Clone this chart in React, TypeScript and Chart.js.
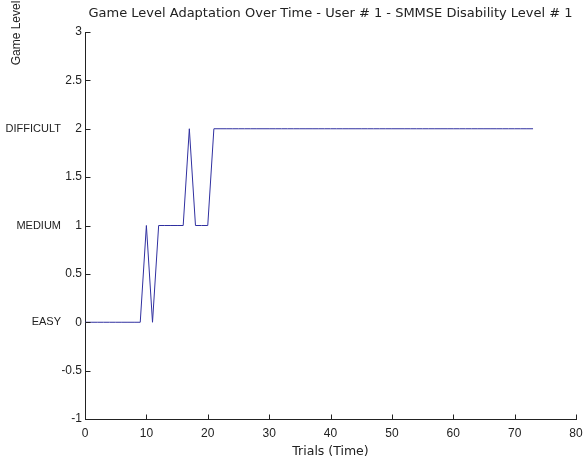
import React, { useEffect, useRef } from 'react';
import { Chart, registerables } from 'chart.js';

Chart.register(...registerables);

const chartTitle = 'Game Level Adaptation Over Time - User # 1 - SMMSE Disability Level # 1';
const xAxisTitle = 'Trials (Time)';
const yAxisTitle = 'Game Level';

const trials = [
  0, 1, 2, 3, 4, 5, 6, 7, 8, 9,
  10, 11, 12, 13, 14, 15, 16, 17, 18, 19,
  20, 21, 22, 23, 24, 25, 26, 27, 28, 29,
  30, 31, 32, 33, 34, 35, 36, 37, 38, 39,
  40, 41, 42, 43, 44, 45, 46, 47, 48, 49,
  50, 51, 52, 53, 54, 55, 56, 57, 58, 59,
  60, 61, 62, 63, 64, 65, 66, 67, 68, 69,
  70, 71, 72, 73,
];

const levels = [
  0, 0, 0, 0, 0, 0, 0, 0, 0, 0,
  1, 0, 1, 1, 1, 1, 1, 2, 1, 1,
  1, 2, 2, 2, 2, 2, 2, 2, 2, 2,
  2, 2, 2, 2, 2, 2, 2, 2, 2, 2,
  2, 2, 2, 2, 2, 2, 2, 2, 2, 2,
  2, 2, 2, 2, 2, 2, 2, 2, 2, 2,
  2, 2, 2, 2, 2, 2, 2, 2, 2, 2,
  2, 2, 2, 2,
];

const levelValues = [0, 1, 2];
const levelNames = ['EASY', 'MEDIUM', 'DIFFICULT'];

const FONT = '"Liberation Sans", Arial, Helvetica, sans-serif';
const WIDE_FONT = '"DejaVu Sans", Verdana, sans-serif';
const INK = '#222222';
const TICK_LEN = 5;

const decorPlugin = {
  id: 'decorPlugin',
  afterDraw(chart: any) {
    const ctx = chart.ctx;
    const area = chart.chartArea;
    const xs = chart.scales.x;
    const ys = chart.scales.y;
    ctx.save();
    ctx.strokeStyle = INK;
    ctx.lineWidth = 1;
    ctx.beginPath();
    xs.ticks.forEach((t: any) => {
      const px = Math.round(xs.getPixelForValue(t.value)) + 0.5;
      const by = Math.round(area.bottom) + 0.5;
      ctx.moveTo(px, by);
      ctx.lineTo(px, by - TICK_LEN);
    });
    ys.ticks.forEach((t: any) => {
      const py = Math.round(ys.getPixelForValue(t.value)) + 0.5;
      const lx = Math.round(area.left) + 0.5;
      ctx.moveTo(lx, py);
      ctx.lineTo(lx + TICK_LEN, py);
    });
    ctx.stroke();

    ctx.translate(17, 33);
    ctx.rotate(-Math.PI / 2);
    ctx.font = `12px ${FONT}`;
    ctx.fillStyle = INK;
    ctx.textAlign = 'center';
    ctx.textBaseline = 'middle';
    ctx.fillText(yAxisTitle, 0, 0);
    ctx.restore();
  },
};

export default function App() {
  const ref = useRef<HTMLCanvasElement | null>(null);

  useEffect(() => {
    if (!ref.current) return;
    const chart = new Chart(ref.current, {
      type: 'line',
      data: {
        datasets: [
          {
            data: trials.map((t, i) => ({ x: t, y: levels[i] })),
            borderColor: '#3030a0',
            borderWidth: 1,
            pointRadius: 0,
            tension: 0,
            fill: false,
          },
        ],
      },
      plugins: [decorPlugin],
      options: {
        animation: false,
        responsive: true,
        maintainAspectRatio: false,
        layout: { padding: { left: 0, right: 9, top: 0, bottom: 0 } },
        plugins: {
          legend: { display: false },
          tooltip: { enabled: false },
          title: {
            display: true,
            text: chartTitle,
            fullSize: false,
            color: INK,
            font: { family: WIDE_FONT, size: 13, weight: 'normal' },
            padding: { top: 6, bottom: 10.4 },
          },
        },
        scales: {
          x: {
            type: 'linear',
            position: 'bottom',
            min: 0,
            max: 80,
            afterFit: (s: any) => {
              s.height = 46;
              s.paddingLeft = 0;
              s.paddingRight = 0;
            },
            ticks: {
              stepSize: 10,
              autoSkip: false,
              maxRotation: 0,
              color: INK,
              padding: 7,
              font: { family: FONT, size: 12 },
              callback: (v: any) => Number(v).toString(),
            },
            grid: { display: false, drawOnChartArea: false, drawTicks: false },
            border: { display: true, color: INK, width: 1 },
            title: {
              display: true,
              text: xAxisTitle,
              color: INK,
              font: { family: WIDE_FONT, size: 12.5 },
              padding: { top: 0, bottom: 6 },
            },
          },
          y: {
            type: 'linear',
            position: 'left',
            weight: 0,
            min: -1,
            max: 3,
            afterFit: (s: any) => {
              s.width = 23;
              s.paddingTop = 0;
              s.paddingBottom = 0;
            },
            ticks: {
              stepSize: 0.5,
              autoSkip: false,
              color: INK,
              padding: 3,
              font: { family: FONT, size: 12 },
              callback: (v: any) => Number(v).toString(),
            },
            grid: { display: false, drawOnChartArea: false, drawTicks: false },
            border: { display: true, color: INK, width: 1 },
          },
          yLevel: {
            type: 'linear',
            position: 'left',
            weight: 1,
            min: -1,
            max: 3,
            afterFit: (s: any) => {
              s.width = 62;
              s.paddingTop = 0;
              s.paddingBottom = 0;
            },
            afterBuildTicks: (s: any) => {
              s.ticks = levelValues.map((v) => ({ value: v }));
            },
            ticks: {
              autoSkip: false,
              color: INK,
              padding: 1,
              font: { family: FONT, size: 11 },
              callback: (v: any) => {
                const i = levelValues.indexOf(Number(v));
                return i >= 0 ? levelNames[i] : '';
              },
            },
            grid: { display: false, drawTicks: false },
            border: { display: false },
          },
        },
      },
    });
    return () => chart.destroy();
  }, []);

  return (
    <div style={{ position: 'fixed', left: 0, top: 0, width: 585, height: 465, background: '#fff' }}>
      <canvas ref={ref} />
    </div>
  );
}
